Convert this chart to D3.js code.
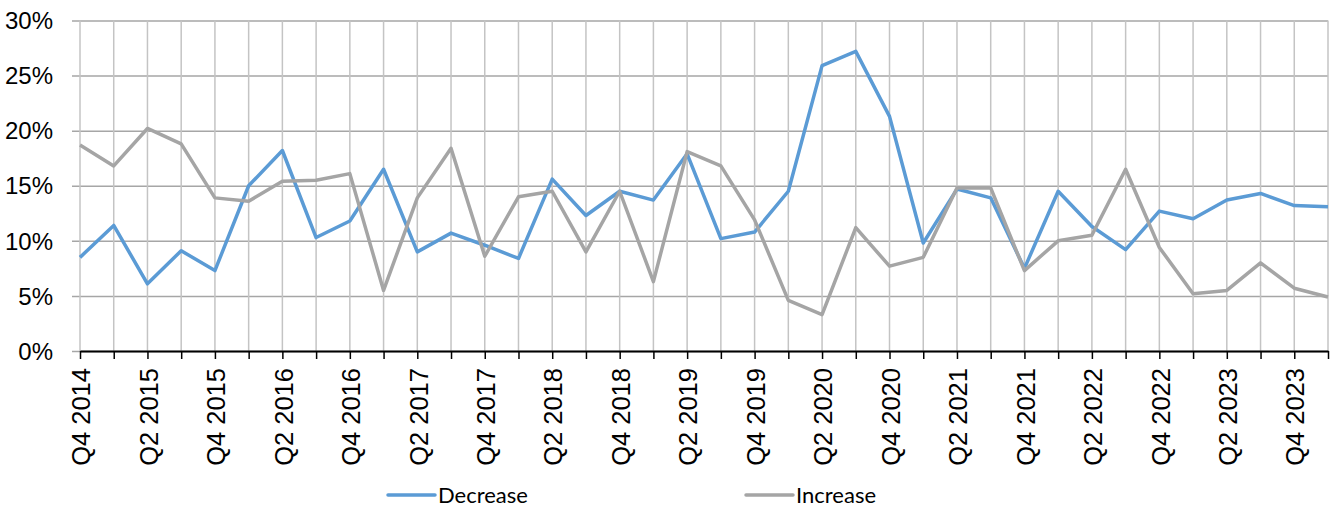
<!DOCTYPE html>
<html>
<head>
<meta charset="utf-8">
<script src="https://cdn.jsdelivr.net/npm/d3@7"></script>
<style>
  html, body { margin: 0; padding: 0; background: #fff; }
  svg { display: block; font-family: Lato, "Noto Sans", sans-serif; }
</style>
</head>
<body>
<svg id="chart" width="1331" height="510"></svg>
<script>
const categories = [
  "Q4 2014","Q1 2015","Q2 2015","Q3 2015","Q4 2015","Q1 2016","Q2 2016","Q3 2016",
  "Q4 2016","Q1 2017","Q2 2017","Q3 2017","Q4 2017","Q1 2018","Q2 2018","Q3 2018",
  "Q4 2018","Q1 2019","Q2 2019","Q3 2019","Q4 2019","Q1 2020","Q2 2020","Q3 2020",
  "Q4 2020","Q1 2021","Q2 2021","Q3 2021","Q4 2021","Q1 2022","Q2 2022","Q3 2022",
  "Q4 2022","Q1 2023","Q2 2023","Q3 2023","Q4 2023","Q1 2024"
];
const decrease = [
  8.5, 11.4, 6.1, 9.1, 7.3, 15.0, 18.2, 10.3,
  11.8, 16.5, 9.0, 10.7, 9.6, 8.4, 15.6, 12.3,
  14.5, 13.7, 17.9, 10.2, 10.8, 14.5, 25.9, 27.2,
  21.3, 9.8, 14.7, 13.9, 7.5, 14.5, 11.3, 9.2,
  12.7, 12.0, 13.7, 14.3, 13.2, 13.1
];
const increase = [
  18.7, 16.8, 20.2, 18.8, 13.9, 13.6, 15.4, 15.5,
  16.1, 5.5, 13.9, 18.4, 8.6, 14.0, 14.5, 9.0,
  14.5, 6.3, 18.1, 16.8, 11.9, 4.6, 3.3, 11.2,
  7.7, 8.5, 14.8, 14.8, 7.3, 10.0, 10.5, 16.5,
  9.4, 5.2, 5.5, 8.0, 5.7, 4.9
];
const yTicks = [0, 5, 10, 15, 20, 25, 30];
const seriesNames = ["Decrease", "Increase"];
const seriesColors = ["#5B9BD5", "#A5A5A5"];

const svg = d3.select("#chart");
const pLeft = 80, pRight = 1328, pTop = 20.5, pBottom = 351;

const x = d3.scalePoint().domain(categories).range([pLeft, pRight]);
const y = d3.scaleLinear().domain([0, 30]).range([pBottom, pTop]);

// horizontal gridlines + y labels
const yAxis = d3.axisLeft(y).tickValues(yTicks).tickSize(0).tickFormat(d => d + "%");
const gy = svg.append("g").attr("transform", `translate(${pLeft},0)`).call(yAxis);
gy.select(".domain").remove();
gy.selectAll(".tick line").attr("stroke", "#a6a6a6").attr("stroke-width", 1.5)
  .attr("x1", -8).attr("x2", pRight - pLeft);
gy.selectAll(".tick text").attr("x", -27).attr("fill", "#000")
  .style("font-size", "24px").attr("dy", "0.34em");

// vertical gridlines
svg.append("g").selectAll("line").data(categories).join("line")
  .attr("x1", d => x(d)).attr("x2", d => x(d))
  .attr("y1", pTop).attr("y2", pBottom)
  .attr("stroke", "#c4c4c4").attr("stroke-width", 1.5);

// x axis
const xAxis = d3.axisBottom(x).tickSize(8).tickSizeOuter(0)
  .tickFormat((d, i) => i % 2 === 0 ? d : "");
const gx = svg.append("g").attr("transform", `translate(0,${pBottom})`).call(xAxis);
gx.select(".domain").attr("stroke", "#000").attr("stroke-width", 2);
gx.selectAll(".tick line").attr("stroke", "#000").attr("stroke-width", 1.5);
gx.selectAll(".tick text")
  .attr("transform", "rotate(-90)")
  .attr("text-anchor", "end")
  .attr("x", -17).attr("y", 0).attr("dy", "0.38em")
  .attr("fill", "#000").style("font-size", "25.5px");

// lines
const line = d3.line().x((d, i) => x(categories[i])).y(d => y(d));
[decrease, increase].forEach((s, k) => {
  svg.append("path").datum(s)
    .attr("fill", "none").attr("stroke", seriesColors[k])
    .attr("stroke-width", 3.5).attr("stroke-linejoin", "round")
    .attr("d", line);
});

// legend
const legendX = [388, 746];
const lg = svg.append("g");
seriesNames.forEach((n, k) => {
  lg.append("line").attr("x1", legendX[k]).attr("x2", legendX[k] + 47)
    .attr("y1", 495).attr("y2", 495)
    .attr("stroke", seriesColors[k]).attr("stroke-width", 3.5).attr("stroke-linecap", "round");
  lg.append("text").attr("x", legendX[k] + 50).attr("y", 495).attr("dy", "0.35em")
    .style("font-size", "22px").attr("fill", "#000").text(n);
});
</script>
</body>
</html>
